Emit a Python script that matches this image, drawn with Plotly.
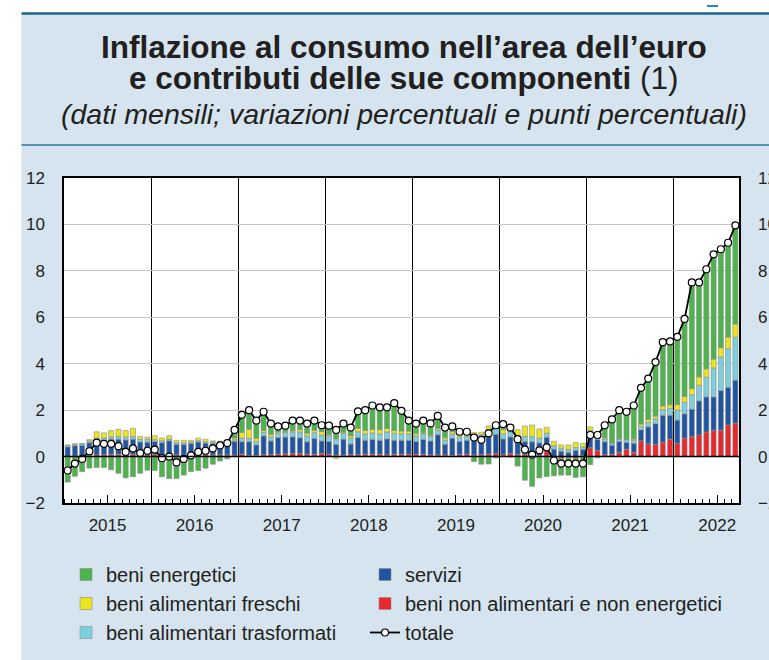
import plotly.graph_objects as go

# ---------------- data (monthly, Jan 2015 - Sep 2022) ----------------
years = ["2015", "2016", "2017", "2018", "2019", "2020", "2021", "2022"]

neig = [  # beni non alimentari e non energetici
    0.00, 0.02, 0.03, 0.05, 0.07, 0.08, 0.10, 0.10, 0.10, 0.10, 0.08, 0.07,
    0.10, 0.10, 0.08, 0.08, 0.07, 0.06, 0.08, 0.08, 0.07, 0.08, 0.07, 0.07,
    0.10, 0.05, 0.05, 0.08, 0.08, 0.10, 0.12, 0.13, 0.13, 0.10, 0.10, 0.13,
    0.10, 0.06, 0.06, 0.08, 0.08, 0.10, 0.10, 0.10, 0.07, 0.10, 0.10, 0.10,
    0.10, 0.10, 0.07, 0.07, 0.07, 0.05, 0.10, 0.10, 0.07, 0.08, 0.10, 0.13,
    0.08, 0.13, 0.08, 0.10, 0.05, 0.05, 0.42, -0.03, -0.08, -0.03, -0.08, 0.05,
    0.38, 0.26, 0.08, 0.10, 0.18, 0.31, 0.18, 0.68, 0.55, 0.52, 0.62, 0.75,
    0.57, 0.79, 0.86, 0.93, 1.06, 1.12, 1.14, 1.36, 1.43]

services = [  # servizi
    0.42, 0.45, 0.45, 0.55, 0.62, 0.62, 0.65, 0.65, 0.62, 0.65, 0.55, 0.55,
    0.55, 0.50, 0.60, 0.45, 0.45, 0.50, 0.55, 0.50, 0.50, 0.48, 0.50, 0.58,
    0.54, 0.59, 0.45, 0.81, 0.59, 0.72, 0.72, 0.72, 0.68, 0.54, 0.68, 0.54,
    0.55, 0.46, 0.69, 0.46, 0.74, 0.60, 0.64, 0.60, 0.69, 0.60, 0.60, 0.60,
    0.55, 0.64, 0.60, 0.87, 0.46, 0.74, 0.55, 0.60, 0.69, 0.69, 0.87, 0.83,
    0.68, 0.72, 0.59, 0.55, 0.59, 0.54, 0.41, 0.32, 0.23, 0.18, 0.27, 0.25,
    0.60, 0.48, 0.56, 0.39, 0.47, 0.30, 0.39, 0.47, 0.73, 0.90, 1.16, 1.03,
    1.00, 1.05, 1.18, 1.47, 1.51, 1.45, 1.70, 1.62, 1.86]

processed = [  # beni alimentari trasformati
    0.06, 0.06, 0.07, 0.08, 0.10, 0.10, 0.10, 0.12, 0.12, 0.12, 0.12, 0.12,
    0.08, 0.08, 0.08, 0.07, 0.07, 0.07, 0.06, 0.06, 0.06, 0.06, 0.06, 0.08,
    0.15, 0.15, 0.15, 0.15, 0.18, 0.18, 0.20, 0.22, 0.25, 0.25, 0.25, 0.25,
    0.25, 0.25, 0.25, 0.25, 0.25, 0.28, 0.28, 0.28, 0.30, 0.30, 0.28, 0.28,
    0.24, 0.23, 0.20, 0.20, 0.18, 0.18, 0.20, 0.18, 0.18, 0.18, 0.20, 0.25,
    0.22, 0.22, 0.22, 0.22, 0.22, 0.20, 0.18, 0.14, 0.13, 0.12, 0.12, 0.12,
    0.15, 0.14, 0.12, 0.10, 0.10, 0.12, 0.14, 0.15, 0.20, 0.20, 0.25, 0.30,
    0.43, 0.50, 0.62, 0.67, 0.85, 1.25, 1.45, 1.67, 1.85]

fresh = [  # beni alimentari freschi
    0.02, 0.02, 0.00, 0.05, 0.28, 0.22, 0.27, 0.30, 0.28, 0.35, 0.12, 0.10,
    0.17, 0.12, 0.14, 0.10, 0.11, 0.07, 0.11, 0.11, 0.05, 0.05, 0.05, 0.07,
    0.25, 0.39, 0.14, 0.08, 0.11, 0.06, 0.03, 0.05, 0.10, 0.12, 0.10, 0.16,
    0.05, -0.08, 0.05, 0.10, 0.15, 0.15, 0.15, 0.18, 0.15, 0.12, 0.12, 0.12,
    0.10, 0.05, 0.05, 0.08, 0.10, 0.10, 0.10, 0.15, 0.10, 0.10, 0.15, 0.20,
    0.18, 0.20, 0.27, 0.45, 0.50, 0.40, 0.25, 0.20, 0.14, 0.20, 0.21, 0.15,
    0.15, 0.10, 0.05, 0.00, 0.02, 0.02, 0.05, 0.10, 0.12, 0.12, 0.15, 0.15,
    0.24, 0.25, 0.27, 0.36, 0.36, 0.38, 0.40, 0.50, 0.57]

energy = [  # beni energetici
    -1.10, -0.85, -0.65, -0.50, -0.47, -0.47, -0.57, -0.72, -0.92, -0.87, -0.72, -0.59,
    -0.60, -0.87, -0.95, -0.95, -0.80, -0.65, -0.60, -0.50, -0.33, -0.19, -0.10, 0.35,
    0.76, 0.82, 0.76, 0.81, 0.46, 0.24, 0.26, 0.43, 0.39, 0.41, 0.42, 0.27,
    0.38, 0.46, 0.37, 0.36, 0.73, 0.87, 1.03, 0.96, 0.91, 1.18, 0.87, 0.45,
    0.43, 0.53, 0.51, 0.53, 0.44, 0.23, 0.12, 0.04, -0.22, -0.33, -0.32, -0.06,
    0.24, -0.02, -0.41, -1.02, -1.28, -0.92, -0.86, -0.80, -0.72, -0.77, -0.82, -0.87,
    -0.35, -0.05, 0.54, 1.01, 1.23, 1.19, 1.43, 1.54, 1.76, 2.33, 2.75, 2.70,
    2.92, 3.34, 4.57, 4.07, 4.29, 4.51, 4.24, 4.06, 4.25]

total = [  # totale
    -0.60, -0.30, -0.10, 0.23, 0.60, 0.55, 0.55, 0.45, 0.20, 0.35, 0.15, 0.25,
    0.30, -0.07, 0.00, -0.25, -0.10, 0.05, 0.20, 0.25, 0.35, 0.48, 0.58, 1.15,
    1.80, 2.00, 1.55, 1.93, 1.42, 1.30, 1.33, 1.55, 1.55, 1.42, 1.55, 1.35,
    1.33, 1.15, 1.42, 1.25, 1.95, 2.00, 2.20, 2.12, 2.12, 2.30, 1.97, 1.55,
    1.42, 1.55, 1.43, 1.75, 1.25, 1.30, 1.07, 1.07, 0.82, 0.72, 1.00, 1.35,
    1.40, 1.25, 0.75, 0.30, 0.08, 0.27, 0.40, -0.17, -0.30, -0.30, -0.30, -0.30,
    0.93, 0.93, 1.35, 1.60, 2.00, 1.93, 2.20, 2.96, 3.36, 4.07, 4.93, 4.96,
    5.16, 5.93, 7.50, 7.50, 8.07, 8.71, 8.93, 9.21, 9.96]

y_ticks = [-2, 0, 2, 4, 6, 8, 10, 12]

# ---------------- layout helpers ----------------
x = list(range(len(total)))
month_labels = [f"{2015 + i // 12}-{i % 12 + 1:02d}" for i in x]

FONT = "Liberation Sans, Arial, Helvetica, sans-serif"
TXT = "#231f20"
W, H = 769, 660
L, R, T, B = 64, 30, 178, 157
PW, PH = W - L - R, H - T - B


def px(v):
    return (v - L) / PW


def py(v):
    return (H - B - v) / PH


PANEL = "#d5e4ee"

fig = go.Figure()

# (name, values, colour, legend, rank within legend)
series = [
    ("beni non alimentari e non energetici", neig, "#e8282c", "legend2", 2),
    ("servizi", services, "#1f55a3", "legend2", 1),
    ("beni alimentari trasformati", processed, "#7ccfdd", "legend", 3),
    ("beni alimentari freschi", fresh, "#ece51e", "legend", 2),
    ("beni energetici", energy, "#4db34d", "legend", 1),
]
for name, vals, col, leg, rank in series:
    fig.add_trace(go.Bar(
        x=x, y=vals, name=name, legend=leg, legendrank=rank,
        marker=dict(color=col, line=dict(color="#8d8d8d", width=0.6)),
        customdata=month_labels,
        hovertemplate="%{customdata}: %{y}<extra>" + name + "</extra>",
    ))

fig.add_trace(go.Scatter(
    x=x, y=total, name="totale", legend="legend2", legendrank=3,
    xaxis="x2", yaxis="y2",
    mode="lines+markers",
    line=dict(color="black", width=1.8),
    marker=dict(symbol="circle", size=7, color="white",
                line=dict(color="black", width=1.2)),
    customdata=month_labels,
    hovertemplate="%{customdata}: %{y}<extra>totale</extra>",
))

shapes = [
    # white margins outside the light-blue panel
    dict(type="rect", xref="paper", yref="paper", x0=px(0), x1=px(21.5),
         y0=py(H), y1=py(0), fillcolor="white", line=dict(width=0), layer="below"),
    dict(type="rect", xref="paper", yref="paper", x0=px(0), x1=px(W),
         y0=py(12.5), y1=py(0), fillcolor="white", line=dict(width=0), layer="below"),
    # header rules
    dict(type="line", xref="paper", yref="paper", x0=px(21.5), x1=px(W),
         y0=py(13.5), y1=py(13.5), line=dict(color="#1b6788", width=2.5)),
    dict(type="line", xref="paper", yref="paper", x0=px(21.5), x1=px(W),
         y0=py(145), y1=py(145), line=dict(color="#2a7aa2", width=1.3)),
    dict(type="line", xref="paper", yref="paper", x0=px(707), x1=px(718),
         y0=py(6), y1=py(6), line=dict(color="#2a86b5", width=2)),
    # zero line above bars
    dict(type="line", xref="paper", yref="y", x0=0, x1=1, y0=0, y1=0,
         line=dict(color="black", width=1.5), layer="above"),
]

annotations = [
    dict(text="<b>Inflazione al consumo nell’area dell’euro</b>",
         x=px(404), y=py(46.5), xref="paper", yref="paper", showarrow=False,
         xanchor="center", yanchor="middle", font=dict(size=31.5, color=TXT, family=FONT)),
    dict(text="<b>e contributi delle sue componenti</b> (1)",
         x=px(404), y=py(77.5), xref="paper", yref="paper", showarrow=False,
         xanchor="center", yanchor="middle", font=dict(size=31.5, color=TXT, family=FONT)),
    dict(text="<i>(dati mensili; variazioni percentuali e punti percentuali)</i>",
         x=px(404), y=py(114), xref="paper", yref="paper", showarrow=False,
         xanchor="center", yanchor="middle", font=dict(size=28.5, color=TXT, family=FONT)),
]

legend_common = dict(orientation="v", xanchor="left", yanchor="top", y=py(555),
                     traceorder="normal", font=dict(size=20, color=TXT, family=FONT),
                     bgcolor="rgba(0,0,0,0)", itemwidth=30, tracegroupgap=0)

fig.update_layout(
    width=W, height=H,
    margin=dict(l=L, r=R, t=T, b=B, pad=0, autoexpand=False),
    paper_bgcolor=PANEL, plot_bgcolor="white",
    font=dict(family=FONT, color=TXT, size=17),
    barmode="relative", bargap=0.3,
    showlegend=True,
    legend=dict(x=px(66), **legend_common),
    legend2=dict(x=px(365), **legend_common),
    xaxis=dict(range=[-0.5, 92.5], tickvals=[11.5 + 12 * k for k in range(7)],
               showticklabels=False, ticks="", showgrid=True, gridcolor="black",
               gridwidth=1, zeroline=False, showline=True, mirror=True,
               linecolor="black", linewidth=1.5,
               minor=dict(tickvals=[k - 0.5 for k in range(94)], ticks="inside",
                          ticklen=4, tickcolor="black", tickwidth=1, showgrid=False)),
    xaxis2=dict(overlaying="x", anchor="y", side="bottom", range=[-0.5, 92.5],
                tickvals=[5.5 + 12 * k for k in range(7)] + [89.5], ticktext=years,
                ticks="inside", ticklen=8, tickcolor="black", tickwidth=1,
                showgrid=False, zeroline=False, showline=False,
                tickfont=dict(size=17), ticklabelstandoff=10),
    yaxis=dict(range=[-2, 12], tickvals=y_ticks, showgrid=True, gridcolor="#c4c4c4",
               gridwidth=1.3, zeroline=False, showline=True, mirror=True,
               linecolor="black", linewidth=1.5, ticks="", tickfont=dict(size=17),
               ticklabelstandoff=14),
    yaxis2=dict(overlaying="y", anchor="x", side="right", range=[-2, 12],
                tickvals=y_ticks, showgrid=False, zeroline=False, showline=False,
                ticks="", tickfont=dict(size=17), ticklabelstandoff=18),
    shapes=shapes,
    annotations=annotations,
)

fig.write_html("out.html",
               config={"displayModeBar": False},
               post_script="document.body.style.margin='0';document.body.style.overflow='hidden';")
